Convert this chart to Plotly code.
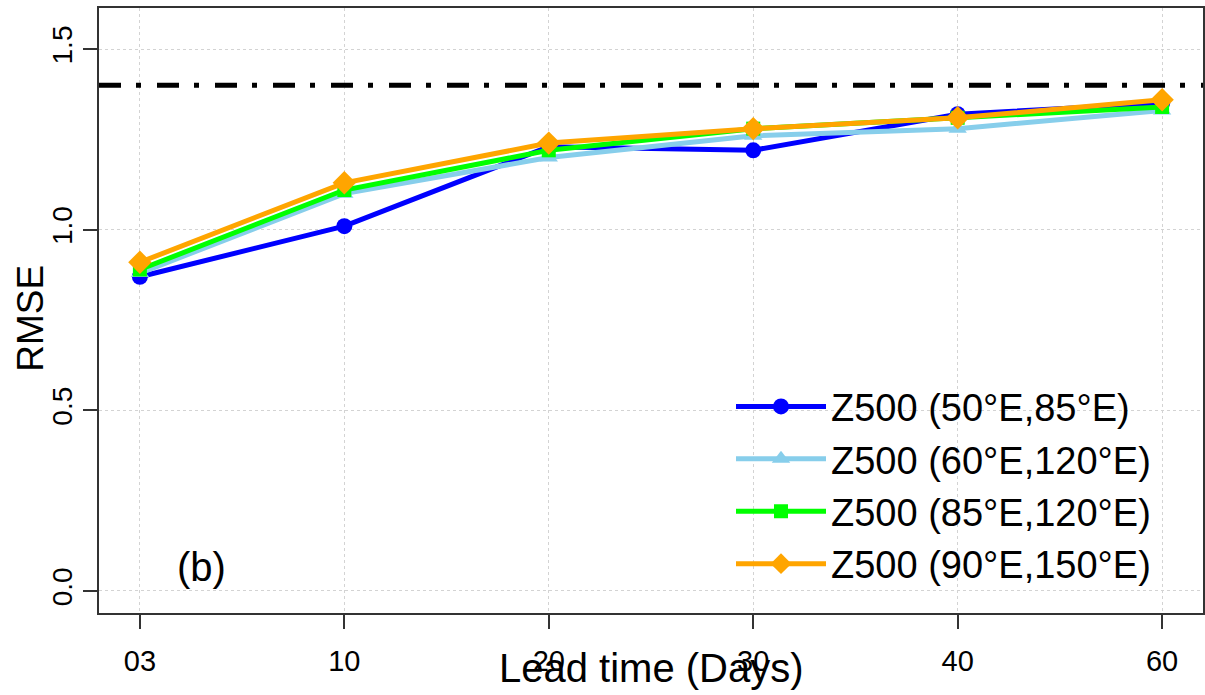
import plotly.graph_objects as go

lead_times = ["03", "10", "20", "30", "40", "60"]
series_names = ["Z500 (50°E,85°E)", "Z500 (60°E,120°E)", "Z500 (85°E,120°E)", "Z500 (90°E,150°E)"]
rmse_50_85 = [0.87, 1.01, 1.23, 1.22, 1.32, 1.35]
rmse_60_120 = [0.88, 1.10, 1.20, 1.26, 1.28, 1.33]
rmse_85_120 = [0.89, 1.11, 1.22, 1.28, 1.31, 1.34]
rmse_90_150 = [0.91, 1.13, 1.24, 1.28, 1.31, 1.36]
threshold = 1.4
y_ticks = [0.0, 0.5, 1.0, 1.5]

colors = ["#0000FF", "#87CEEB", "#00FF00", "#FFA500"]
symbols = ["circle", "triangle-up", "square", "diamond"]
sizes = [16, 16, 14, 18]
FONT = "Arial, Liberation Sans, sans-serif"

fig = go.Figure()
for i, (name, vals) in enumerate(zip(series_names, [rmse_50_85, rmse_60_120, rmse_85_120, rmse_90_150])):
    fig.add_trace(go.Scatter(
        x=lead_times, y=vals, name=name, mode="lines+markers",
        line=dict(color=colors[i], width=5),
        marker=dict(symbol=symbols[i], size=sizes[i], color=colors[i]),
    ))

fig.add_shape(type="line", xref="paper", x0=0, x1=1, yref="y", y0=threshold, y1=threshold,
              line=dict(color="black", width=5, dash="22px,15px,5px,16px"))

fig.add_annotation(text="(b)", xref="paper", yref="paper", x=0.0926, y=0.0756,
                   xanchor="center", yanchor="middle",
                   showarrow=False, font=dict(family=FONT, size=40, color="black"))
fig.add_annotation(text="Lead time (Days)", xref="paper", yref="paper", x=0.5, y=-0.0915,
                   xanchor="center", yanchor="middle",
                   showarrow=False, font=dict(family=FONT, size=40, color="black"))
fig.add_annotation(text="RMSE", xref="paper", yref="paper", x=-0.0622, y=0.487,
                   xanchor="center", yanchor="middle", textangle=-90,
                   showarrow=False, font=dict(family=FONT, size=37, color="black"))

axis_common = dict(showline=True, linecolor="#333333", linewidth=2, mirror=True,
                   ticks="outside", ticklen=14, tickcolor="#333333", tickwidth=1.5,
                   showgrid=True, gridcolor="#d3d3d3", griddash="dot", gridwidth=1,
                   zeroline=False, automargin=False)

fig.update_layout(
    width=1205, height=695,
    margin=dict(l=99, r=2, t=8, b=82),
    paper_bgcolor="white", plot_bgcolor="white",
    font=dict(family=FONT, color="black"),
    xaxis=dict(type="category", range=[-0.2, 5.2], tickfont=dict(size=29),
               ticklabelstandoff=7, **axis_common),
    yaxis=dict(range=[-0.061, 1.614], tickvals=y_ticks, ticktext=[f"{v:.1f}" for v in y_ticks],
               tickangle=-90, tickfont=dict(size=28), **axis_common),
    legend=dict(x=(731 - 99) / 1104, y=0.393, xanchor="left", yanchor="top",
                bgcolor="rgba(0,0,0,0)", borderwidth=0,
                font=dict(size=38, family=FONT), itemwidth=90),
    showlegend=True,
)

fig.write_html("out.html", config={"displayModeBar": False},
               post_script="document.body.style.margin='0px';document.body.style.overflow='hidden';")
